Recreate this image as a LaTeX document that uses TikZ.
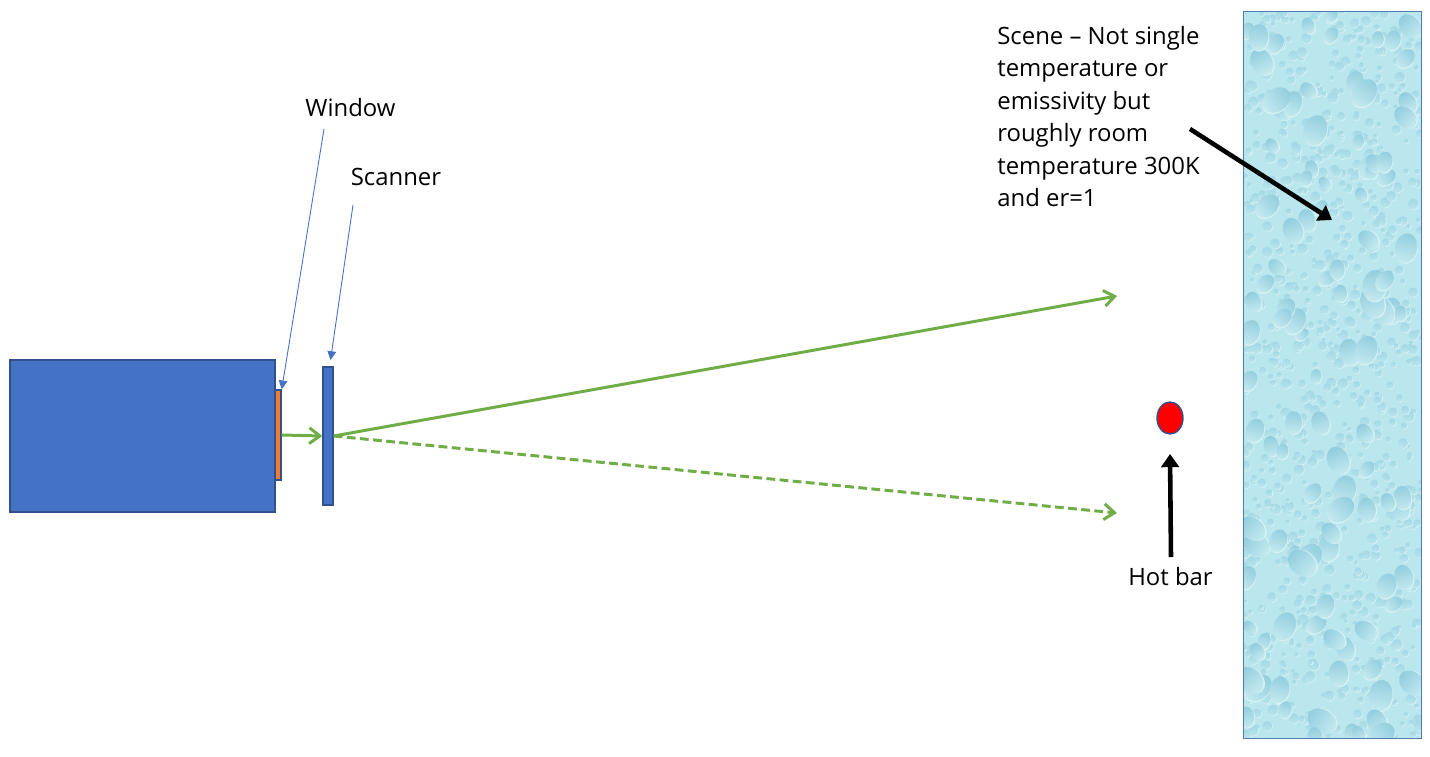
\documentclass[tikz,border=0pt]{standalone}
\usepackage{fontspec}
\setmainfont{Open Sans}
\usetikzlibrary{arrows.meta,shapes.geometric}

\definecolor{boxblue}{HTML}{4472C4}
\definecolor{boxedge}{HTML}{2F528F}
\definecolor{winorange}{HTML}{ED7D31}
\definecolor{raygreen}{HTML}{70AD47}
\definecolor{scenebg}{HTML}{BAE6ED}
\definecolor{scenerim}{HTML}{D6F2F5}
\definecolor{scenedrop}{HTML}{93CEDE}
\definecolor{sceneedge}{HTML}{4F7DAF}

\tikzset{
  box/.style={draw=boxedge,fill=boxblue,line width=0.8pt,inner sep=0pt},
  lbl/.style={font=\fontsize{13.6}{18.5}\selectfont,inner sep=0pt,align=left},
  rayline/.style={draw=raygreen,line width=1.7pt,-{Straight Barb[length=6pt,width=9pt]}},
  thinline/.style={draw=boxblue,line width=0.5pt,-{Triangle[length=5pt,width=5pt]}},
  fatline/.style={draw=black,line width=2.6pt,-{Triangle[length=7.5pt,width=10pt]}},
}

\begin{document}
\begin{tikzpicture}[x=0.02cm,y=-0.02cm]
\useasboundingbox (0,0) rectangle (1430,757);

% Scene
\node[draw=none,fill=scenebg,inner sep=0pt,minimum width=3.54cm,minimum height=14.52cm] (scene) at (1332.5,375) {};
\begin{scope}
\clip (scene.north west) rectangle (scene.south east);
\pgfmathsetseed{11}
% small drops
\foreach \i in {1,...,900}{
  \pgfmathsetmacro{\dx}{1244+177*rnd}
  \pgfmathsetmacro{\dy}{12+726*rnd}
  \pgfmathsetmacro{\dr}{2+3.5*rnd}
  \fill[scenerim] (\dx+0.7,\dy+0.7) circle ({\dr});
  \shade[top color=scenedrop!60!scenebg,bottom color=scenebg] (\dx,\dy) circle ({\dr});
}
% large drops
\foreach \i in {1,...,110}{
  \pgfmathsetmacro{\dx}{1244+177*rnd}
  \pgfmathsetmacro{\dy}{12+726*rnd}
  \pgfmathsetmacro{\dr}{7+9*rnd}
  \pgfmathsetmacro{\da}{-60+120*rnd}
  \fill[scenerim,rotate around={\da:(\dx,\dy)}] (\dx+1,\dy+1) ellipse ({\dr*0.75} and {\dr});
  \shade[top color=scenedrop,bottom color=scenebg!85!white,shading angle=\da,rotate around={\da:(\dx,\dy)}] (\dx,\dy) ellipse ({\dr*0.75} and {\dr});
}
\end{scope}
\draw[sceneedge,line width=0.8pt] (scene.north west) rectangle (scene.south east);

% Camera, window and scanner
\node[box,minimum width=5.3cm,minimum height=3.04cm] (camera) at (142.5,436) {};
\node[box,fill=winorange,minimum width=0.12cm,minimum height=1.8cm] (window) at (278,435) {};
\node[box,minimum width=0.2cm,minimum height=2.76cm] (scanner) at (328,436) {};

% Hot bar
\node[draw=boxedge,fill=red,line width=0.8pt,ellipse,inner sep=0pt,minimum width=0.52cm,minimum height=0.64cm] (hotbar) at (1170,418) {};

% Labels
\node[lbl] (lblwindow) at (350.5,108) {Window};
\node[lbl] (lblscanner) at (396,177) {Scanner};
\node[lbl] (lblhotbar) at (1170.5,577) {Hot bar};
\node[lbl,anchor=north west] (lblscene) at (997,25.5) {Scene -- Not single\\temperature or\\emissivity but\\roughly room\\temperature 300K\\and er=1};

% Free ends
\coordinate (winstart) at (324,129);
\coordinate (scanstart) at (353,205);
\coordinate (scantip) at (330.5,360);
\coordinate (raytop) at (1117,296);
\coordinate (raybottom) at (1117,513);
\coordinate (scenestart) at (1190,129);
\coordinate (scenetip) at (1332,220);
\coordinate (hotstart) at (1171,557);
\coordinate (hottip) at (1170,454);

% Connectors
\draw[thinline] (winstart) -- (window.north east);
\draw[thinline] (scanstart) -- (scantip);
\draw[rayline] (window.east) -- (scanner.west);
\draw[rayline] (scanner.east) -- (raytop);
\draw[rayline,dash pattern=on 5pt off 2.5pt] (scanner.east) -- (raybottom);
\draw[fatline] (scenestart) -- (scenetip);
\draw[fatline] (hotstart) -- (hottip);

\end{tikzpicture}
\end{document}
